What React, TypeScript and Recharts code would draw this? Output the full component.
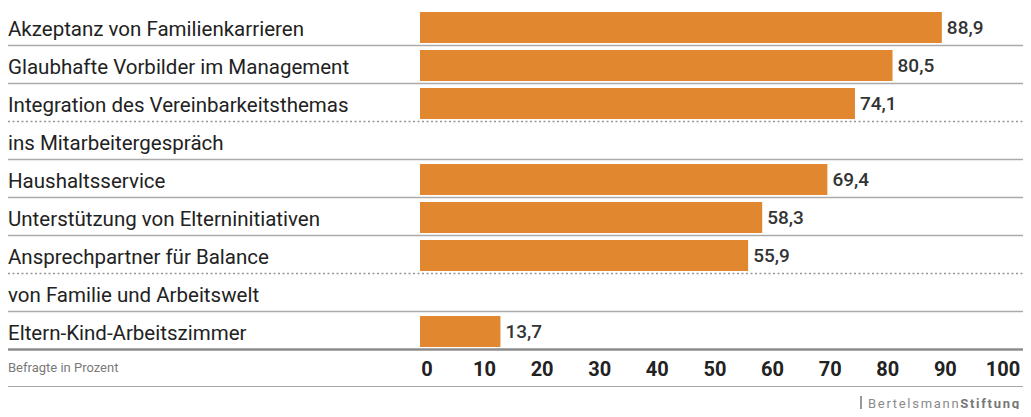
import React from "react"
import { BarChart, Bar, XAxis, YAxis, LabelList } from "recharts"

const categories = [
  "Akzeptanz von Familienkarrieren",
  "Glaubhafte Vorbilder im Management",
  "Integration des Vereinbarkeitsthemas",
  "ins Mitarbeitergespräch",
  "Haushaltsservice",
  "Unterstützung von Elterninitiativen",
  "Ansprechpartner für Balance",
  "von Familie und Arbeitswelt",
  "Eltern-Kind-Arbeitszimmer",
]
// null = second line of the label above, no bar of its own
const values = [88.9, 80.5, 74.1, null, 69.4, 58.3, 55.9, null, 13.7]
const ticks = [0, 10, 20, 30, 40, 50, 60, 70, 80, 90, 100]

const data = categories.map((name, i) => ({ name, value: values[i] }))

const FONT = "Roboto, sans-serif"
const ORANGE = "#E0872F"
const ROW = 38

function RowTick(props: any) {
  const { y, payload, index } = props
  const nextIsContinuation = values[index + 1] === null
  const last = index === categories.length - 1
  return (
    <g>
      {index === 0 && (
        <line x1={8} x2={1031} y1={y - ROW / 2 - 1.5} y2={y - ROW / 2 - 1.5} stroke="#8c8c8c" strokeWidth={3} />
      )}
      <text x={8} y={y} dy={9} fontSize={20.5} fill="#222" textAnchor="start" fontFamily={FONT}>
        {payload.value}
      </text>
      <line
        x1={8}
        x2={1031}
        y1={y + ROW / 2 - 0.5}
        y2={y + ROW / 2 - 0.5}
        stroke={last ? "#8c8c8c" : nextIsContinuation ? "#999" : "#aaa"}
        strokeWidth={last ? 2.5 : 1.4}
        strokeDasharray={nextIsContinuation ? "2 2.5" : undefined}
      />
    </g>
  )
}

function ScaleTick(props: any) {
  const { x, y, payload } = props
  return (
    <text x={x} y={y} dy={-4} textAnchor="middle" fontSize={20} fontWeight={700} fill="#222" fontFamily={FONT}>
      {payload.value}
    </text>
  )
}

const fmt = (v: any) => (v == null ? "" : Number(v).toFixed(1).replace(".", ","))

export default function App() {
  return (
    <div style={{ position: "relative", margin: -8, width: 1031, height: 417, fontFamily: FONT, background: "#fff" }}>
      <BarChart
        width={1031}
        height={417}
        data={data}
        layout="vertical"
        margin={{ top: 8, right: 24, bottom: 0, left: 0 }}
      >
        <XAxis xAxisId="bars" type="number" domain={[0, 100]} hide />
        <XAxis
          xAxisId="scale"
          type="number"
          domain={[-1.2, 100.7]}
          allowDataOverflow
          ticks={ticks}
          interval={0}
          axisLine={false}
          tickLine={false}
          tickSize={0}
          tickMargin={0}
          height={67}
          tick={<ScaleTick />}
        />
        <YAxis
          type="category"
          dataKey="name"
          width={420}
          interval={0}
          axisLine={false}
          tickLine={false}
          tick={<RowTick />}
        />
        <Bar xAxisId="bars" dataKey="value" fill={ORANGE} barSize={31} isAnimationActive={false}>
          <LabelList
            dataKey="value"
            position="right"
            offset={5}
            formatter={fmt}
            fontSize={19}
            fontWeight={500}
            fill="#333"
            fontFamily={FONT}
          />
        </Bar>
      </BarChart>
      <div style={{ position: "absolute", left: 8, top: 360, fontSize: 13, color: "#7a7a7a" }}>Befragte in Prozent</div>
      <div style={{ position: "absolute", left: 8, right: 0, top: 385.5, height: 1.5, background: "#a8a8a8" }} />
      <div style={{ position: "absolute", left: 860, top: 396, width: 2, height: 19, background: "#999" }} />
      <div style={{ position: "absolute", left: 868, top: 396, fontSize: 13, letterSpacing: 1.7, color: "#8a8a8a", whiteSpace: "nowrap" }}>
        Bertelsmann<b style={{ color: "#777" }}>Stiftung</b>
      </div>
    </div>
  )
}
